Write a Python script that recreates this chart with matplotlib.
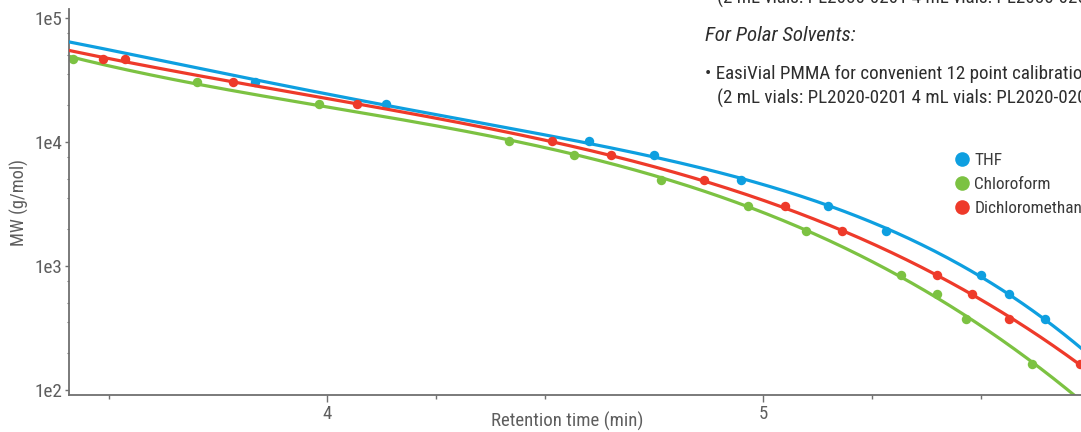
import numpy as np
import matplotlib
matplotlib.use("Agg")
import matplotlib.pyplot as plt
from matplotlib import font_manager
from matplotlib.font_manager import FontProperties
from matplotlib.textpath import TextPath
from matplotlib.lines import Line2D
from matplotlib.ticker import FixedLocator, NullFormatter

# ---------------- data ----------------
thf_time = [3.835, 4.135, 4.601, 4.750, 4.950, 5.149, 5.282, 5.500, 5.564, 5.647]
thf_mw = [30400, 20200, 10100, 7800, 4900, 3070, 1930, 850, 590, 376]
# THF calibration line (its fit extends past the dots)
thf_line_time = [3.408, 3.617, 3.835, 4.135, 4.282, 4.601, 4.750, 4.950, 5.149, 5.282, 5.500, 5.564, 5.647, 5.729]
thf_line_mw = [64000, 45700, 31600, 20200, 15000, 10100, 7800, 4900, 3070, 1930, 850, 590, 376, 211]

chl_time = [3.417, 3.702, 3.982, 4.417, 4.567, 4.766, 4.966, 5.099, 5.317, 5.399, 5.466, 5.617]
chl_mw = [46700, 30400, 20200, 10100, 7800, 4900, 3070, 1930, 850, 590, 376, 162]

dcm_time = [3.486, 3.537, 3.784, 4.069, 4.516, 4.651, 4.865, 5.050, 5.181, 5.399, 5.479, 5.564, 5.727]
dcm_mw = [46700, 46700, 30400, 20200, 10100, 7800, 4900, 3070, 1930, 850, 590, 376, 162]
# Dichloromethane calibration line
dcm_line_time = [3.408, 3.486, 3.784, 4.069, 4.282, 4.516, 4.865, 5.181, 5.399, 5.564, 5.727]
dcm_line_mw = [54100, 48400, 31000, 20200, 14400, 10100, 4900, 1930, 850, 376, 162]

series_names = ["THF", "Chloroform", "Dichloromethane"]
x_major = [4, 5]
x_minor = [3.5, 4.25, 4.5, 5.25, 5.5]
y_major = [1e2, 1e3, 1e4, 1e5]
y_labels = ["1e2", "1e3", "1e4", "1e5"]

doc_lines = [
    "(2 mL vials: PL2080-0201 4 mL vials: PL2080-0201)",
    "For Polar Solvents:",
    "\u2022 EasiVial PMMA for convenient 12 point calibration",
    "(2 mL vials: PL2020-0201 4 mL vials: PL2020-0201)",
]

# ---------------- fonts ----------------
fl = font_manager.fontManager.ttflist
names = {f.name for f in fl}
STRETCH = "normal"
FONT = None
for cand in ["Liberation Sans Narrow", "Roboto Condensed", "Open Sans Condensed", "DejaVu Sans Condensed"]:
    if cand in names:
        FONT = cand
        break
if FONT is None:
    if any(f.name == "DejaVu Sans" and str(f.stretch) in ("condensed", "semi-condensed") for f in fl):
        FONT, STRETCH = "DejaVu Sans", "condensed"
    elif "Roboto" in names:
        FONT = "Roboto"
    else:
        FONT = "DejaVu Sans"
plt.rcParams["font.family"] = [FONT, "DejaVu Sans"]
plt.rcParams["font.stretch"] = STRETCH


def fit_size(s, target_px, style="normal", base=12.0):
    prop = FontProperties(family=FONT, stretch=STRETCH, style=style)
    w = TextPath((0, 0), s, size=base, prop=prop).get_extents().width  # points
    return base * target_px / (w * 100 / 72)


FS_DOC = fit_size(doc_lines[2], 384)
FS_DOC_IT = fit_size(doc_lines[1], 150, style="italic")
FS_XLAB = fit_size("Retention time (min)", 150)
FS_YLAB = fit_size("MW (g/mol)", 84)
FS_YTICK = fit_size("1e4", 26)
FS_LEG = fit_size("Chloroform", 75)
FS_XTICK = FS_XLAB

BLUE = "#0e9fe0"
GREEN = "#7cc242"
RED = "#ee3a2a"
AXC = "#707070"
TXT = "#5e5e5e"
DOC = "#2e2e2e"

W, H = 1081, 432
fig = plt.figure(figsize=(W / 100, H / 100), dpi=100)
ax_left, ax_right = 69 / W, 1.0
ax_bottom, ax_top = 1 - 395 / H, 1 - 9 / H
ax = fig.add_axes([ax_left, ax_bottom, ax_right - ax_left, ax_top - ax_bottom])
ax.set_yscale("log")
ax.set_xlim(3.408, 5.729)
ax.set_ylim(91, 1.18e5)

tt = np.linspace(3.40, 5.76, 400)
c_thf = np.polyfit(thf_line_time, np.log10(thf_line_mw), 4)
c_dcm = np.polyfit(dcm_line_time, np.log10(dcm_line_mw), 4)
c_chl = np.polyfit(chl_time, np.log10(chl_mw), 3)

ax.plot(tt, 10 ** np.polyval(c_chl, tt), color=GREEN, lw=2.3, zorder=2)
ax.plot(chl_time, chl_mw, "o", color=GREEN, ms=6.8, mec="none", zorder=2.5)
ax.plot(tt, 10 ** np.polyval(c_thf, tt), color=BLUE, lw=2.3, zorder=3)
ax.plot(thf_time, thf_mw, "o", color=BLUE, ms=6.8, mec="none", zorder=3.5)
ax.plot(tt, 10 ** np.polyval(c_dcm, tt), color=RED, lw=2.3, zorder=4)
ax.plot(dcm_time, dcm_mw, "o", color=RED, ms=6.8, mec="none", zorder=4.5)

for s in ["top", "right"]:
    ax.spines[s].set_visible(False)
for s in ["left", "bottom"]:
    ax.spines[s].set_color(AXC)
    ax.spines[s].set_linewidth(1.3)

ax.xaxis.set_major_locator(FixedLocator(x_major))
ax.xaxis.set_minor_locator(FixedLocator(x_minor))
ax.set_xticklabels([str(v) for v in x_major])
ax.yaxis.set_major_locator(FixedLocator(y_major))
ax.set_yticklabels(y_labels)
ax.yaxis.set_minor_locator(FixedLocator([v * s for v in [1e2, 1e3, 1e4] for s in (2, 3.5, 5, 7.5)]))
ax.yaxis.set_minor_formatter(NullFormatter())
ax.tick_params(axis="x", which="major", length=5, width=1, color=AXC, labelsize=FS_XTICK, labelcolor=TXT, pad=2.5)
ax.tick_params(axis="x", which="minor", length=3, width=1, color=AXC)
ax.tick_params(axis="y", which="major", length=3, width=1, color=AXC, labelsize=FS_YTICK, labelcolor=TXT, pad=1.5)
ax.tick_params(axis="y", which="minor", length=1.8, width=0.8, color=AXC)

ax.set_xlabel("Retention time (min)", fontsize=FS_XLAB, color=TXT)
ax.xaxis.label.set_va("baseline")
ax.xaxis.set_label_coords(567 / W, 1 - 427 / H, transform=fig.transFigure)
ax.set_ylabel("MW (g/mol)", fontsize=FS_YLAB, color=TXT)
ax.yaxis.label.set_va("center")
ax.yaxis.set_label_coords(19 / W, 1 - 202 / H, transform=fig.transFigure)

handles = [Line2D([], [], ls="none", marker="o", ms=10.5, color=c, mec="none") for c in (BLUE, GREEN, RED)]
leg = fig.legend(handles, series_names, loc="upper left", bbox_to_anchor=(957 / W, 1 - 153 / H),
                 frameon=False, fontsize=FS_LEG, handlelength=0.6, handletextpad=0.4,
                 labelspacing=0.52, borderaxespad=0, borderpad=0)
for t in leg.get_texts():
    t.set_color("#3a3a3a")

fig.text(717 / W, 1 - 4 / H, doc_lines[0], fontsize=FS_DOC, color=DOC, va="baseline", ha="left")
fig.text(705 / W, 1 - 41 / H, doc_lines[1], fontsize=FS_DOC_IT, color=DOC, va="baseline", ha="left", style="italic")
fig.text(705 / W, 1 - 79 / H, doc_lines[2], fontsize=FS_DOC, color=DOC, va="baseline", ha="left")
fig.text(717 / W, 1 - 104 / H, doc_lines[3], fontsize=FS_DOC, color=DOC, va="baseline", ha="left")

fig.savefig("out.png", dpi=100)
